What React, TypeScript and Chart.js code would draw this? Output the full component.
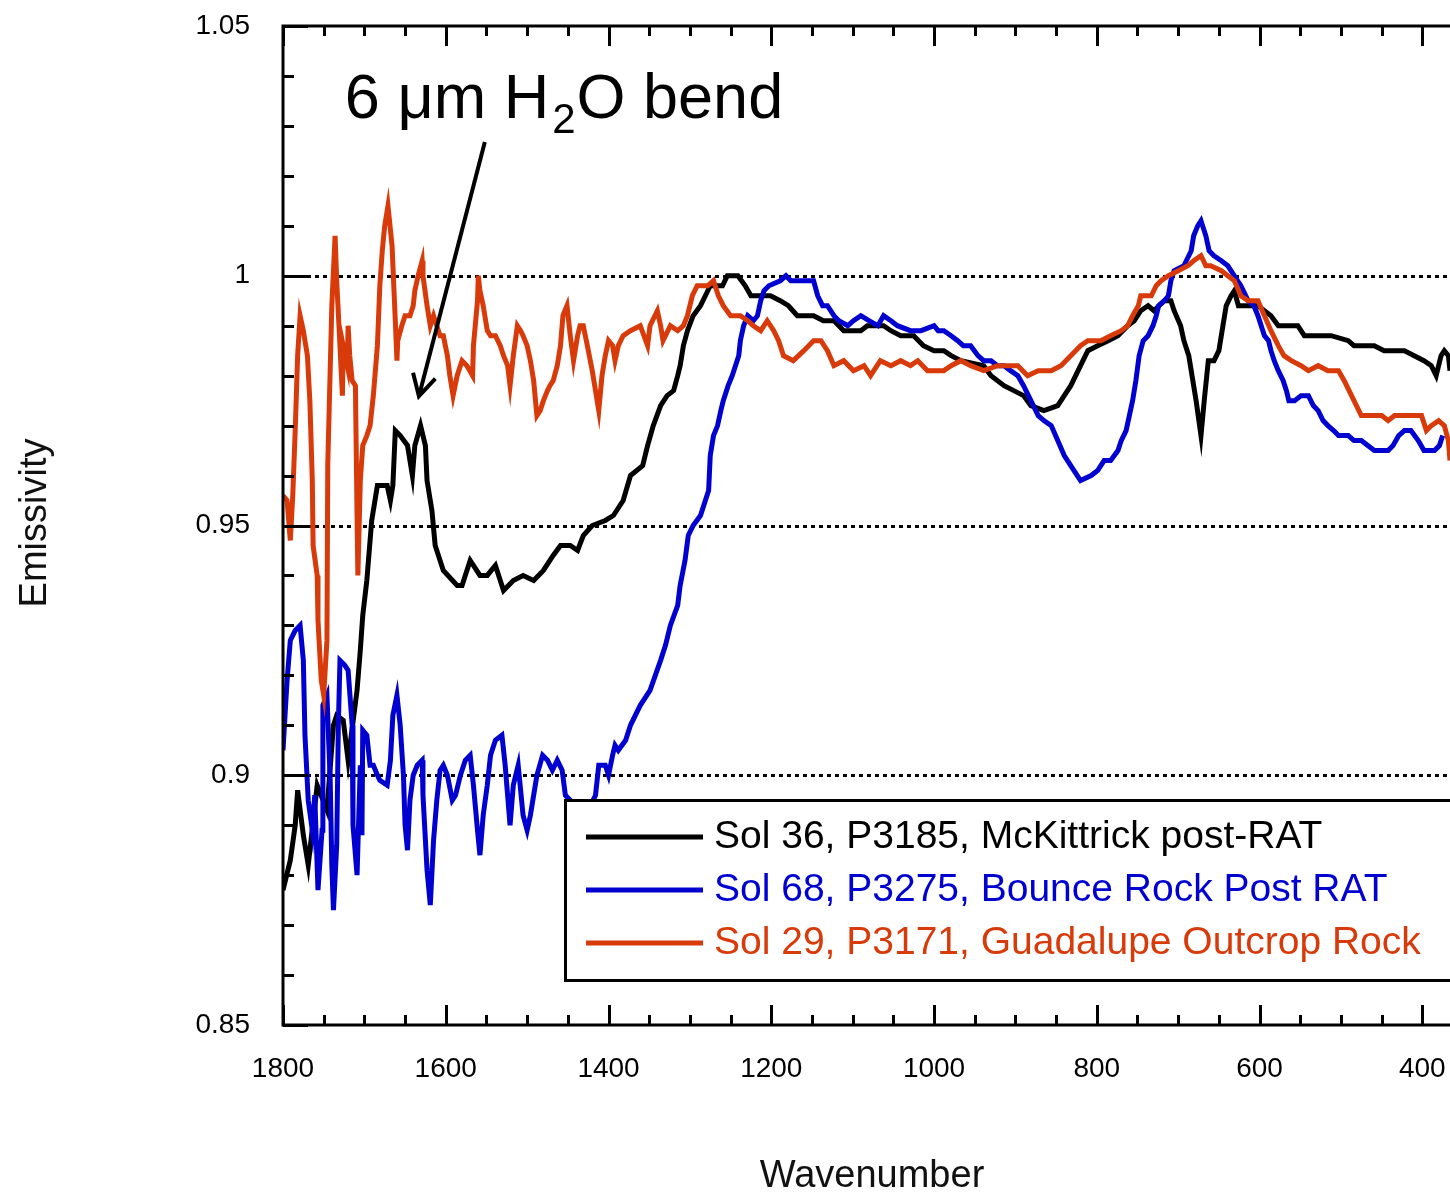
import React, { useEffect, useRef } from 'react';
import { Chart, registerables } from 'chart.js';

Chart.register(...registerables);

// ---------- data ----------
const xTickValues = [1800, 1600, 1400, 1200, 1000, 800, 600, 400];
const yTickValues = [0.85, 0.9, 0.95, 1, 1.05];
const yTickLabels = ['0.85', '0.9', '0.95', '1', '1.05'];
const gridValues = [0.9, 0.95, 1];

const seriesLabels = [
  'Sol 36, P3185, McKittrick post-RAT',
  'Sol 68, P3275, Bounce Rock Post RAT',
  'Sol 29, P3171, Guadalupe Outcrop Rock',
];
const seriesColors = ['#000000', '#0000d0', '#d83a0a'];

// [wavenumber, emissivity]
const mcKittrick: [number, number][] = [
  [1800, 0.877], [1791, 0.883], [1785, 0.89], [1782, 0.897], [1775, 0.888], [1773, 0.886], [1769, 0.882],
  [1758, 0.898], [1746, 0.893], [1738, 0.91], [1734, 0.912], [1726, 0.911], [1720, 0.903], [1709, 0.917],
  [1705, 0.925], [1702, 0.932], [1697, 0.939], [1691, 0.951], [1684, 0.958], [1672, 0.958], [1668, 0.955],
  [1665, 0.958], [1662, 0.969], [1656, 0.968], [1647, 0.966], [1641, 0.96], [1638, 0.966], [1631, 0.97],
  [1625, 0.966], [1623, 0.959], [1617, 0.953], [1613, 0.946], [1603, 0.941], [1586, 0.938], [1580, 0.938],
  [1570, 0.943], [1558, 0.94], [1549, 0.94], [1539, 0.942], [1529, 0.937], [1517, 0.939], [1505, 0.94],
  [1492, 0.939], [1480, 0.941], [1468, 0.944], [1459, 0.946], [1447, 0.946], [1438, 0.945], [1431, 0.948],
  [1420, 0.95], [1404, 0.951], [1394, 0.952], [1382, 0.955], [1373, 0.96], [1358, 0.962], [1352, 0.966],
  [1345, 0.97], [1336, 0.974], [1328, 0.976], [1320, 0.977], [1315, 0.98], [1312, 0.982], [1308, 0.986],
  [1303, 0.989], [1296, 0.992], [1287, 0.994], [1281, 0.996], [1275, 0.998], [1260, 0.998], [1254, 1.0],
  [1246, 1.0], [1241, 1.0], [1232, 0.998], [1225, 0.996], [1213, 0.996], [1201, 0.996], [1189, 0.995],
  [1179, 0.994], [1168, 0.992], [1155, 0.992], [1148, 0.992], [1136, 0.991], [1123, 0.991], [1111, 0.989],
  [1102, 0.989], [1090, 0.989], [1082, 0.99], [1069, 0.99], [1062, 0.99], [1053, 0.989], [1041, 0.988],
  [1025, 0.988], [1013, 0.986], [1000, 0.985], [988, 0.985], [979, 0.984], [967, 0.983], [939, 0.982],
  [930, 0.98], [914, 0.978], [902, 0.977], [890, 0.976], [881, 0.974], [865, 0.973], [848, 0.974],
  [840, 0.976], [832, 0.978], [820, 0.982], [811, 0.985], [799, 0.986], [786, 0.987], [774, 0.988],
  [762, 0.99], [754, 0.991], [746, 0.993], [737, 0.994], [730, 0.993], [717, 0.995], [709, 0.995],
  [705, 0.993], [697, 0.99], [693, 0.987], [687, 0.984], [682, 0.979], [678, 0.975], [672, 0.968],
  [668, 0.975], [663, 0.983], [656, 0.983], [650, 0.985], [645, 0.99], [641, 0.994], [635, 0.996],
  [631, 0.997], [626, 0.994], [620, 0.994], [614, 0.994], [602, 0.994], [594, 0.993], [586, 0.992],
  [577, 0.99], [565, 0.99], [553, 0.99], [545, 0.988], [537, 0.988], [512, 0.988], [491, 0.987],
  [484, 0.986], [471, 0.986], [459, 0.986], [447, 0.985], [434, 0.985], [422, 0.985], [410, 0.984],
  [398, 0.983], [389, 0.982], [383, 0.98], [377, 0.984], [373, 0.985], [368, 0.984], [366, 0.981],
];

const bounceRock: [number, number][] = [
  [1800, 0.905], [1795, 0.919], [1791, 0.927], [1785, 0.929], [1779, 0.93], [1775, 0.923], [1773, 0.908],
  [1769, 0.895], [1764, 0.889], [1761, 0.896], [1757, 0.877], [1752, 0.889], [1751, 0.914], [1746, 0.916],
  [1742, 0.899], [1740, 0.882], [1738, 0.873], [1734, 0.886], [1732, 0.91], [1730, 0.923], [1724, 0.922],
  [1720, 0.921], [1715, 0.91], [1714, 0.89], [1709, 0.88], [1705, 0.902], [1703, 0.888], [1702, 0.909],
  [1697, 0.908], [1693, 0.902], [1689, 0.902], [1684, 0.9], [1681, 0.899], [1672, 0.898], [1668, 0.903],
  [1665, 0.912], [1660, 0.916], [1656, 0.91], [1652, 0.9], [1650, 0.89], [1647, 0.885], [1644, 0.895],
  [1640, 0.9], [1635, 0.902], [1629, 0.903], [1628, 0.896], [1623, 0.881], [1619, 0.874], [1615, 0.887],
  [1611, 0.895], [1607, 0.901], [1603, 0.902], [1598, 0.9], [1592, 0.895], [1588, 0.896], [1582, 0.9],
  [1576, 0.903], [1570, 0.904], [1566, 0.898], [1561, 0.889], [1558, 0.884], [1554, 0.892], [1549, 0.898],
  [1545, 0.904], [1539, 0.907], [1531, 0.908], [1527, 0.902], [1523, 0.894], [1521, 0.89], [1517, 0.898],
  [1511, 0.902], [1505, 0.892], [1500, 0.889], [1496, 0.892], [1492, 0.896], [1488, 0.9], [1481, 0.904],
  [1475, 0.903], [1469, 0.901], [1463, 0.903], [1457, 0.901], [1453, 0.896], [1447, 0.895], [1435, 0.893],
  [1422, 0.894], [1416, 0.896], [1412, 0.902], [1404, 0.902], [1400, 0.9], [1395, 0.904], [1392, 0.906],
  [1388, 0.905], [1379, 0.907], [1373, 0.91], [1361, 0.914], [1349, 0.917], [1336, 0.923], [1330, 0.926],
  [1324, 0.93], [1315, 0.934], [1312, 0.938], [1306, 0.943], [1302, 0.948], [1296, 0.95], [1287, 0.952],
  [1281, 0.955], [1277, 0.957], [1275, 0.964], [1271, 0.968], [1266, 0.97], [1262, 0.973], [1259, 0.975],
  [1253, 0.978], [1248, 0.98], [1244, 0.982], [1240, 0.984], [1238, 0.987], [1234, 0.99], [1229, 0.992],
  [1222, 0.991], [1217, 0.992], [1213, 0.995], [1209, 0.997], [1203, 0.998], [1189, 0.999], [1182, 1.0],
  [1176, 0.999], [1148, 0.999], [1143, 0.996], [1137, 0.994], [1131, 0.994], [1123, 0.992], [1117, 0.991],
  [1106, 0.99], [1099, 0.991], [1090, 0.992], [1080, 0.991], [1069, 0.99], [1062, 0.992], [1053, 0.991],
  [1045, 0.99], [1029, 0.989], [1016, 0.989], [1000, 0.99], [995, 0.989], [988, 0.989], [979, 0.988],
  [971, 0.987], [964, 0.986], [955, 0.986], [946, 0.984], [939, 0.983], [930, 0.983], [922, 0.982],
  [914, 0.982], [906, 0.981], [897, 0.98], [890, 0.978], [881, 0.975], [872, 0.972], [865, 0.971],
  [856, 0.97], [848, 0.967], [840, 0.964], [832, 0.962], [820, 0.959], [807, 0.96], [799, 0.961],
  [791, 0.963], [783, 0.963], [774, 0.965], [770, 0.967], [764, 0.969], [760, 0.972], [756, 0.975],
  [752, 0.979], [748, 0.984], [743, 0.987], [737, 0.988], [731, 0.99], [727, 0.992], [724, 0.994],
  [717, 0.995], [712, 0.996], [709, 0.999], [705, 1.001], [693, 1.002], [684, 1.005], [681, 1.008],
  [676, 1.01], [672, 1.011], [666, 1.008], [662, 1.005], [656, 1.004], [647, 1.003], [639, 1.002],
  [631, 1.0], [623, 0.998], [614, 0.995], [607, 0.994], [602, 0.992], [598, 0.99], [594, 0.988],
  [589, 0.987], [586, 0.985], [582, 0.983], [577, 0.981], [571, 0.979], [567, 0.977], [564, 0.975],
  [557, 0.975], [549, 0.976], [540, 0.976], [534, 0.974], [528, 0.973], [522, 0.971], [516, 0.97],
  [509, 0.969], [503, 0.968], [491, 0.968], [484, 0.967], [475, 0.967], [467, 0.966], [459, 0.965],
  [442, 0.965], [436, 0.966], [429, 0.968], [422, 0.969], [414, 0.969], [405, 0.967], [398, 0.965],
  [385, 0.965], [379, 0.966], [375, 0.968],
];

const guadalupe: [number, number][] = [
  [1800, 0.956], [1795, 0.955], [1791, 0.947], [1788, 0.956], [1785, 0.969], [1782, 0.984], [1779, 0.992],
  [1775, 0.989], [1770, 0.984], [1767, 0.975], [1764, 0.959], [1763, 0.946], [1758, 0.94], [1757, 0.931],
  [1753, 0.919], [1750, 0.916], [1746, 0.927], [1745, 0.962], [1740, 0.994], [1736, 1.008], [1734, 0.999],
  [1730, 0.986], [1727, 0.976], [1726, 0.986], [1721, 0.982], [1720, 0.99], [1718, 0.984], [1715, 0.979],
  [1711, 0.978], [1709, 0.952], [1708, 0.94], [1705, 0.959], [1702, 0.966], [1697, 0.968], [1693, 0.97],
  [1689, 0.976], [1684, 0.986], [1683, 0.99], [1681, 0.998], [1678, 1.005], [1675, 1.01], [1671, 1.014],
  [1666, 1.006], [1662, 0.991], [1660, 0.983], [1659, 0.987], [1654, 0.99], [1650, 0.992], [1644, 0.992],
  [1640, 0.994], [1638, 0.997], [1634, 1.0], [1629, 1.003], [1628, 1.0], [1623, 0.994], [1619, 0.99],
  [1615, 0.992], [1611, 0.99], [1607, 0.988], [1603, 0.988], [1598, 0.984], [1595, 0.98], [1591, 0.976],
  [1586, 0.98], [1580, 0.983], [1574, 0.982], [1567, 0.98], [1566, 0.986], [1561, 0.995], [1560, 1.0],
  [1558, 0.997], [1554, 0.994], [1549, 0.989], [1545, 0.988], [1539, 0.988], [1533, 0.986], [1529, 0.984],
  [1524, 0.982], [1521, 0.978], [1517, 0.984], [1512, 0.99], [1508, 0.989], [1505, 0.988], [1500, 0.986],
  [1496, 0.983], [1492, 0.979], [1488, 0.972], [1484, 0.973], [1480, 0.975], [1475, 0.977], [1472, 0.978],
  [1468, 0.979], [1463, 0.982], [1459, 0.986], [1456, 0.992], [1451, 0.994], [1447, 0.988], [1443, 0.983],
  [1438, 0.988], [1435, 0.99], [1431, 0.99], [1426, 0.986], [1420, 0.981], [1416, 0.977], [1412, 0.973],
  [1408, 0.98], [1404, 0.984], [1400, 0.987], [1395, 0.986], [1392, 0.983], [1388, 0.986], [1382, 0.988],
  [1373, 0.989], [1361, 0.99], [1352, 0.986], [1349, 0.99], [1340, 0.993], [1336, 0.99], [1333, 0.987],
  [1324, 0.99], [1315, 0.989], [1308, 0.99], [1303, 0.992], [1297, 0.996], [1291, 0.998], [1278, 0.998],
  [1271, 0.999], [1265, 0.996], [1259, 0.994], [1250, 0.992], [1238, 0.992], [1229, 0.991], [1222, 0.99],
  [1213, 0.989], [1205, 0.991], [1197, 0.989], [1191, 0.987], [1185, 0.984], [1173, 0.983], [1160, 0.985],
  [1148, 0.987], [1139, 0.987], [1131, 0.985], [1123, 0.982], [1111, 0.983], [1099, 0.981], [1086, 0.982],
  [1078, 0.98], [1066, 0.983], [1053, 0.982], [1041, 0.983], [1029, 0.982], [1020, 0.983], [1008, 0.981],
  [988, 0.981], [979, 0.982], [967, 0.983], [955, 0.982], [939, 0.981], [922, 0.982], [909, 0.982],
  [897, 0.982], [885, 0.98], [872, 0.981], [856, 0.981], [844, 0.982], [832, 0.984], [820, 0.986],
  [811, 0.987], [795, 0.987], [783, 0.988], [770, 0.989], [762, 0.99], [756, 0.992], [749, 0.994],
  [746, 0.996], [733, 0.996], [727, 0.998], [721, 0.999], [712, 1.0], [700, 1.001], [688, 1.002],
  [681, 1.003], [672, 1.004], [666, 1.002], [660, 1.002], [647, 1.001], [639, 1.0], [631, 0.999],
  [623, 0.996], [614, 0.995], [602, 0.995], [594, 0.992], [586, 0.989], [577, 0.986], [570, 0.984],
  [561, 0.983], [549, 0.982], [540, 0.981], [528, 0.982], [516, 0.981], [503, 0.981], [496, 0.979],
  [487, 0.976], [484, 0.975], [475, 0.972], [463, 0.972], [450, 0.972], [442, 0.971], [434, 0.972],
  [417, 0.972], [401, 0.972], [395, 0.969], [389, 0.97], [380, 0.971], [373, 0.97], [368, 0.967],
  [366, 0.963],
];

const seriesData = [mcKittrick, bounceRock, guadalupe];

// annotation (data coordinates)
const annotationParts = ['6 μm H', '2', 'O bend'];
const annotationAnchor = { x: 1724, y: 1.0316 };
const arrowTail = { x: 1552, y: 1.0268 };
const arrowTip = { x: 1633, y: 0.9759 };

const xTitle = 'Wavenumber';
const yTitle = 'Emissivity';

const W = 1450;
const H = 1193;
const PLOT_LEFT = 283;
const PLOT_TOP = 26;
const PLOT_BOTTOM = 1025;
const FONT = '"Liberation Sans", Arial, sans-serif';

const decorPlugin = {
  id: 'decor',
  beforeDatasetsDraw(chart: any) {
    const { ctx, chartArea, scales } = chart;
    const y = scales.y;
    ctx.save();
    ctx.strokeStyle = '#000';
    ctx.lineWidth = 3;
    ctx.setLineDash([4, 4]);
    gridValues.forEach((v) => {
      const py = Math.round(y.getPixelForValue(v)) + 0.5;
      ctx.beginPath();
      ctx.moveTo(chartArea.left, py);
      ctx.lineTo(chartArea.right, py);
      ctx.stroke();
    });
    ctx.restore();
  },
  afterDatasetsDraw(chart: any) {
    const { ctx, chartArea, scales } = chart;
    const x = scales.x;
    const y = scales.y;
    const { left, right, top, bottom } = chartArea;
    ctx.save();
    ctx.setLineDash([]);
    ctx.strokeStyle = '#000';
    ctx.lineWidth = 3;
    ctx.lineCap = 'butt';
    // frame (left, top, bottom)
    ctx.beginPath();
    ctx.moveTo(left, top);
    ctx.lineTo(right + 2, top);
    ctx.moveTo(left, top - 1.5);
    ctx.lineTo(left, bottom + 1.5);
    ctx.moveTo(left, bottom);
    ctx.lineTo(right + 2, bottom);
    ctx.stroke();
    // y ticks
    for (let k = 85; k <= 105; k++) {
      const py = Math.round(y.getPixelForValue(k / 100)) + 0.5;
      const len = k % 5 === 0 ? 25 : 11;
      ctx.beginPath();
      ctx.moveTo(left, py);
      ctx.lineTo(left + len, py);
      ctx.stroke();
    }
    // x ticks top & bottom
    for (let w = 400; w <= 1800; w += 50) {
      const px = Math.round(x.getPixelForValue(w)) + 0.5;
      const len = w % 200 === 0 ? 20 : 10;
      ctx.beginPath();
      ctx.moveTo(px, bottom);
      ctx.lineTo(px, bottom - len);
      ctx.moveTo(px, top);
      ctx.lineTo(px, top + len);
      ctx.stroke();
    }

    // legend box
    const lx = 565;
    const ly = 800;
    ctx.fillStyle = '#fff';
    ctx.fillRect(lx, ly, W - lx + 10, 181);
    ctx.lineWidth = 3;
    ctx.strokeRect(lx + 0.5, ly + 0.5, W - lx + 20, 180);
    ctx.font = '39px ' + FONT;
    ctx.textBaseline = 'alphabetic';
    ctx.textAlign = 'left';
    seriesLabels.forEach((label, i) => {
      const rowY = 837 + i * 53;
      ctx.strokeStyle = seriesColors[i];
      ctx.lineWidth = 5;
      ctx.beginPath();
      ctx.moveTo(586, rowY);
      ctx.lineTo(703, rowY);
      ctx.stroke();
      ctx.fillStyle = seriesColors[i];
      ctx.fillText(label, 714, rowY + 11);
    });

    // annotation text
    ctx.fillStyle = '#000';
    const ax = x.getPixelForValue(annotationAnchor.x);
    const ay = y.getPixelForValue(annotationAnchor.y);
    ctx.font = '63px ' + FONT;
    ctx.fillText(annotationParts[0], ax, ay);
    let cx = ax + ctx.measureText(annotationParts[0]).width + 3;
    ctx.font = '42px ' + FONT;
    ctx.fillText(annotationParts[1], cx, ay + 15);
    cx += ctx.measureText(annotationParts[1]).width + 1;
    ctx.font = '63px ' + FONT;
    ctx.fillText(annotationParts[2], cx, ay);

    // arrow
    const tx = x.getPixelForValue(arrowTail.x);
    const ty = y.getPixelForValue(arrowTail.y);
    const hx = x.getPixelForValue(arrowTip.x);
    const hy = y.getPixelForValue(arrowTip.y);
    ctx.strokeStyle = '#000';
    ctx.lineWidth = 4;
    ctx.beginPath();
    ctx.moveTo(tx, ty);
    ctx.lineTo(hx, hy);
    ctx.stroke();
    const ang = Math.atan2(ty - hy, tx - hx);
    const hl = 24;
    ctx.beginPath();
    ctx.moveTo(hx + hl * Math.cos(ang + 0.5), hy + hl * Math.sin(ang + 0.5));
    ctx.lineTo(hx, hy);
    ctx.lineTo(hx + hl * Math.cos(ang - 0.5), hy + hl * Math.sin(ang - 0.5));
    ctx.stroke();

    // axis titles
    ctx.fillStyle = '#111';
    ctx.font = '38px ' + FONT;
    ctx.textAlign = 'center';
    ctx.fillText(xTitle, 872, 1187);
    ctx.save();
    ctx.translate(46, 523);
    ctx.rotate(-Math.PI / 2);
    ctx.fillText(yTitle, 0, 0);
    ctx.restore();
    ctx.restore();
  },
};

export default function App() {
  const canvasRef = useRef<HTMLCanvasElement | null>(null);

  useEffect(() => {
    const canvas = canvasRef.current;
    if (!canvas) return;
    const chart = new Chart(canvas, {
      type: 'line',
      data: {
        datasets: seriesData.map((s, i) => ({
          label: seriesLabels[i],
          data: s.map(([wn, em]) => ({ x: wn, y: em })),
          borderColor: seriesColors[i],
          backgroundColor: seriesColors[i],
          borderWidth: 5,
          pointRadius: 0,
          tension: 0,
          fill: false,
          order: 2 - i,
        })),
      },
      options: {
        responsive: false,
        devicePixelRatio: 1,
        animation: false,
        events: [],
        layout: { padding: { top: PLOT_TOP, left: 0, right: 0, bottom: 0 } },
        plugins: {
          legend: { display: false },
          tooltip: { enabled: false },
          title: { display: false },
        },
        scales: {
          x: {
            type: 'linear',
            reverse: true,
            min: 366,
            max: 1800,
            grid: { display: false, drawTicks: false },
            border: { display: false },
            afterBuildTicks: (scale: any) => {
              scale.ticks = xTickValues.map((v) => ({ value: v }));
            },
            afterFit: (scale: any) => {
              scale.height = H - PLOT_BOTTOM;
              scale.paddingLeft = 0;
              scale.paddingRight = 0;
              scale.paddingTop = 0;
              scale.paddingBottom = 0;
            },
            ticks: {
              color: '#000',
              padding: 27,
              maxRotation: 0,
              autoSkip: false,
              font: { family: FONT, size: 28 },
              callback: (v: any) => String(v),
            },
          },
          y: {
            type: 'linear',
            min: 0.85,
            max: 1.05,
            grid: { display: false, drawTicks: false },
            border: { display: false },
            afterBuildTicks: (scale: any) => {
              scale.ticks = yTickValues.map((v) => ({ value: v }));
            },
            afterFit: (scale: any) => {
              scale.width = PLOT_LEFT;
              scale.paddingLeft = 0;
              scale.paddingRight = 0;
              scale.paddingTop = 0;
              scale.paddingBottom = 0;
            },
            ticks: {
              color: '#000',
              padding: 33,
              autoSkip: false,
              font: { family: FONT, size: 28 },
              callback: (_v: any, i: number) => yTickLabels[i],
            },
          },
        },
      },
      plugins: [decorPlugin],
    } as any);
    return () => chart.destroy();
  }, []);

  return (
    <div style={{ position: 'absolute', left: 0, top: 0, width: W, height: H, background: '#fff' }}>
      <canvas ref={canvasRef} width={W} height={H} style={{ display: 'block', width: W, height: H }} />
    </div>
  );
}
